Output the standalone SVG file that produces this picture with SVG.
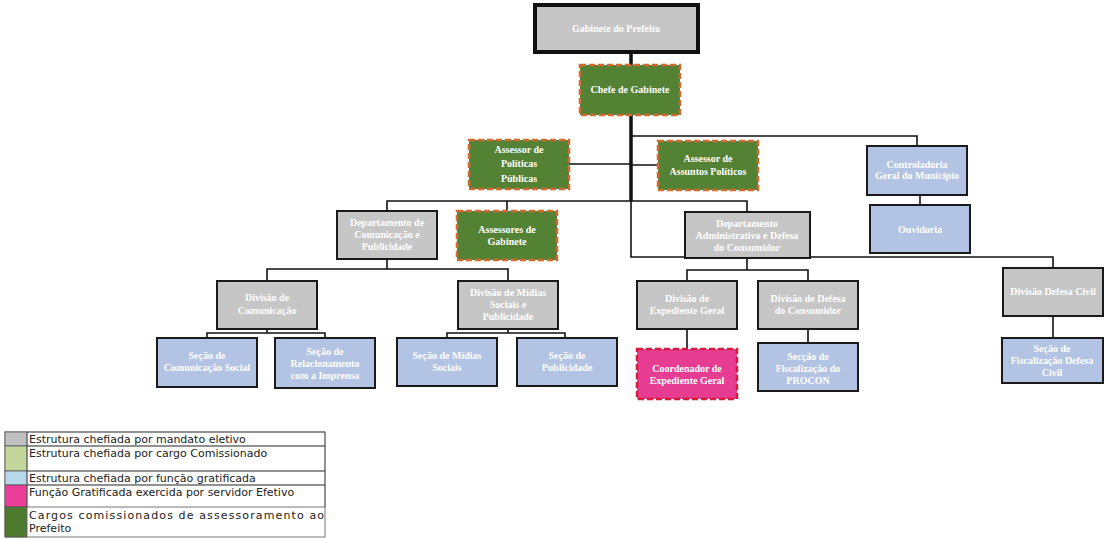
<svg xmlns="http://www.w3.org/2000/svg" width="1109" height="540" viewBox="0 0 1109 540">
<style>
.g{fill:#c6c6c6;stroke:#1a1a1a;stroke-width:2}
.b{fill:#b2c3e3;stroke:#1a1a1a;stroke-width:2}
.a{fill:#548235;stroke:#d2692e;stroke-width:2.5;stroke-dasharray:6 3}
.p{fill:#e63d93;stroke:#d41c3c;stroke-width:2.5;stroke-dasharray:6 3}
text{font-family:"Liberation Serif",serif;font-weight:bold;font-size:10px;fill:#fff;text-anchor:middle}
.c{fill:none;stroke:#111;stroke-width:1.6}
.lg text{font-family:"DejaVu Sans",sans-serif;font-weight:normal;font-size:11px;fill:#222;text-anchor:start}
.lg rect{stroke:#555;stroke-width:0.8}
</style>
<rect width="1109" height="540" fill="#fff"/>
<g id="connectors">
<path class="c" d="M631 52V257H685M810 257H1053V268M631 136H917V147M569 164H631M631 165H658M387 211V201H747V212M507 201V211M920 195V205M387 259V269M267 281V269H508V281M747 258V270M687 281V270H808V281M267 329V333M207 338V333H325V338M508 329V333M447 338V333H565V338M687 329V349M808 329V343M1053 316V338"/>
<path d="M631 52V201" stroke="#111" stroke-width="3.5"/>
</g>
<g id="n1"><rect x="535" y="5" width="163" height="47" fill="#c6c6c6" stroke="#111" stroke-width="4"/><text x="616" y="32">Gabinete do Prefeito</text></g>
<g id="n2"><rect class="a" x="580" y="65" width="100" height="50"/><text x="630" y="93">Chefe de Gabinete</text></g>
<g id="n3"><rect class="a" x="469" y="140" width="100" height="49"/><text x="519" y="153">Assessor de</text><text x="519" y="167">Políticas</text><text x="519" y="182">Públicas</text></g>
<g id="n4"><rect class="a" x="658" y="141" width="100" height="49"/><text x="708" y="162">Assessor de</text><text x="708" y="175">Assuntos Políticos</text></g>
<g id="n5"><rect class="b" x="867" y="146" width="100" height="49"/><text x="917" y="168">Controladoria</text><text x="917" y="179">Geral do Município</text></g>
<g id="n6"><rect class="b" x="870" y="205" width="100" height="48"/><text x="920" y="233">Ouvidoria</text></g>
<g id="n7"><rect class="g" x="337" y="211" width="100" height="48"/><text x="387" y="226">Departamento de</text><text x="387" y="238">Comunicação e</text><text x="387" y="250">Publicidade</text></g>
<g id="n8"><rect class="a" x="457" y="211" width="100" height="49"/><text x="507" y="233">Assessores de</text><text x="507" y="245">Gabinete</text></g>
<g id="n9"><rect class="g" x="685" y="212" width="125" height="46"/><text x="747" y="227">Departamento</text><text x="747" y="239">Administrativo e Defesa</text><text x="747" y="251">do Consumidor</text></g>
<g id="n10"><rect class="g" x="217" y="281" width="100" height="48"/><text x="267" y="301">Divisão de</text><text x="267" y="314">Comunicação</text></g>
<g id="n11"><rect class="g" x="458" y="281" width="100" height="48"/><text x="508" y="296">Divisão de Mídias</text><text x="508" y="308">Sociais e</text><text x="508" y="320">Publicidade</text></g>
<g id="n12"><rect class="g" x="637" y="281" width="100" height="48"/><text x="687" y="302">Divisão de</text><text x="687" y="314">Expediente Geral</text></g>
<g id="n13"><rect class="g" x="758" y="281" width="100" height="48"/><text x="808" y="302">Divisão de Defesa</text><text x="808" y="314">do Consumidor</text></g>
<g id="n14"><rect class="g" x="1003" y="268" width="100" height="48"/><text x="1053" y="295">Divisão Defesa Civil</text></g>
<g id="n15"><rect class="b" x="157" y="338" width="100" height="49"/><text x="207" y="359">Seção de</text><text x="207" y="371">Comunicação Social</text></g>
<g id="n16"><rect class="b" x="275" y="338" width="100" height="50"/><text x="325" y="355">Seção de</text><text x="325" y="367">Relacionamento</text><text x="325" y="379">com  a Imprensa</text></g>
<g id="n17"><rect class="b" x="397" y="338" width="100" height="48"/><text x="447" y="359">Seção de Mídias</text><text x="447" y="371">Sociais</text></g>
<g id="n18"><rect class="b" x="517" y="338" width="100" height="48"/><text x="567" y="359">Seção de</text><text x="567" y="371">Publicidade</text></g>
<g id="n19"><rect class="p" x="637" y="349" width="100" height="50"/><text x="687" y="372">Coordenador de</text><text x="687" y="384">Expediente Geral</text></g>
<g id="n20"><rect class="b" x="758" y="343" width="100" height="48"/><text x="808" y="360">Secção de</text><text x="808" y="372">Fiscalização   do</text><text x="808" y="384">PROCON</text></g>
<g id="n21"><rect class="b" x="1002" y="338" width="101" height="45"/><text x="1052" y="352">Seção de</text><text x="1052" y="364">Fiscalização Defesa</text><text x="1052" y="376">Civil</text></g>
<g class="lg" id="legend">
<rect x="5" y="432" width="320" height="105" fill="#fff"/>
<rect x="5" y="432" width="22" height="14" fill="#c0c0c0"/>
<rect x="5" y="446" width="22" height="25" fill="#c4d79b"/>
<rect x="5" y="471" width="22" height="14" fill="#b7d8ea"/>
<rect x="5" y="485" width="22" height="22" fill="#ea3e98"/>
<rect x="5" y="507" width="22" height="30" fill="#4e7a2e"/>
<rect x="27" y="432" width="298" height="14" fill="none"/>
<rect x="27" y="446" width="298" height="25" fill="none"/>
<rect x="27" y="471" width="298" height="14" fill="none"/>
<rect x="27" y="485" width="298" height="22" fill="none"/>
<text x="29" y="443">Estrutura chefiada por mandato eletivo</text>
<text x="29" y="457">Estrutura chefiada por cargo Comissionado</text>
<text x="29" y="482">Estrutura chefiada por função gratificada</text>
<text x="29" y="496">Função Gratificada exercida por servidor Efetivo</text>
<text x="29" y="519" textLength="295" lengthAdjust="spacing">Cargos comissionados de assessoramento ao</text>
<text x="29" y="532">Prefeito</text>
</g>
</svg>
